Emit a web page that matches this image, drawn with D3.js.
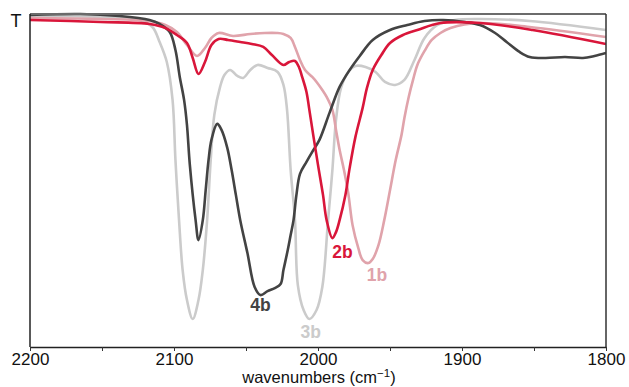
<!DOCTYPE html>
<html>
<head>
<meta charset="utf-8">
<script src="https://cdn.jsdelivr.net/npm/d3@7"></script>
<style>
  body { margin: 0; background: #fff; }
  svg { display: block; font-family: "Liberation Sans", Arial, sans-serif; }
</style>
</head>
<body>
<div id="chart"></div>
<script>
// IR spectra, wavenumbers (cm-1) vs transmittance (arbitrary %)
const wn1b = [2200, 2151, 2117, 2106, 2098, 2091, 2084, 2078.5, 2074, 2069, 2059, 2047, 2037, 2028.5, 2024, 2019, 2016, 2012.5, 2009, 2004, 2001, 1997, 1994, 1990, 1987.5, 1985, 1982, 1979, 1976, 1972, 1969, 1965, 1962, 1958, 1954, 1950, 1946, 1942, 1940, 1937, 1934, 1931, 1926, 1921, 1915, 1908, 1887.5, 1853, 1800];
const t1b  = [98.8, 98.5, 97.9, 96.7, 94.6, 90.7, 87.4, 89.8, 92.8, 94.3, 93.4, 94.0, 94.3, 94.3, 94.0, 92.8, 90.1, 86.2, 83.2, 81.1, 79.6, 77.2, 75.1, 71.2, 65.2, 59.2, 53.2, 46.2, 36.6, 29.7, 26.1, 25.2, 26.4, 30.6, 38.1, 47.1, 56.2, 63.7, 68.8, 75.1, 80.2, 84.7, 88.9, 92.2, 94.3, 95.8, 97.3, 96.1, 93.1];

const wn2b = [2200, 2151, 2117, 2106, 2098, 2091, 2087, 2083, 2078.5, 2074, 2069, 2062.5, 2054, 2046, 2038, 2032, 2024, 2020, 2016, 2013, 2011, 2008, 2006, 2003, 2000, 1996.5, 1994, 1990, 1987.5, 1985, 1981, 1978, 1974, 1969, 1966, 1962, 1956, 1950, 1941, 1931, 1915, 1887.5, 1851, 1800];
const t2b  = [98.2, 97.6, 97.0, 95.8, 93.7, 91.3, 86.8, 82.0, 85.6, 90.7, 92.5, 92.2, 91.6, 91.0, 90.1, 87.7, 84.7, 85.6, 85.9, 83.8, 81.1, 76.6, 71.2, 62.8, 54.7, 45.6, 38.1, 32.7, 34.5, 38.1, 45.6, 53.8, 63.1, 71.8, 77.8, 83.2, 87.7, 91.3, 93.7, 95.2, 97.3, 97.3, 95.2, 91.0];

const wn3b = [2200, 2151, 2124, 2115, 2110, 2105, 2101, 2099, 2096.5, 2094, 2091, 2087, 2083, 2080, 2077, 2074.5, 2072, 2068, 2065, 2061, 2056, 2052, 2047, 2042, 2035, 2028, 2024, 2021.5, 2019, 2016, 2014, 2010, 2006, 2001, 1997, 1993, 1990, 1987.5, 1984, 1979, 1974, 1967, 1960, 1953.5, 1946.5, 1940, 1933, 1926, 1917, 1905, 1887.5, 1853, 1800];
const t3b  = [99.4, 99.1, 98.2, 96.1, 91.6, 85.6, 74.2, 56.2, 38.1, 23.1, 14.1, 8.4, 14.1, 23.1, 38.1, 56.2, 69.7, 78.1, 81.7, 83.2, 81.4, 80.8, 83.2, 84.7, 83.8, 82.6, 78.7, 71.2, 53.2, 38.1, 18.6, 11.1, 8.4, 11.1, 18.0, 38.1, 53.2, 68.2, 77.8, 82.6, 84.4, 84.1, 82.6, 79.6, 78.7, 80.2, 86.2, 92.8, 96.7, 98.2, 98.5, 97.9, 95.2];

const wn4b = [2200, 2165, 2138, 2117, 2110, 2103, 2099, 2096, 2093, 2091, 2089, 2085, 2083, 2080, 2078, 2076, 2074, 2070, 2067, 2063, 2060, 2057, 2054, 2049, 2044, 2040, 2035, 2030, 2026, 2024, 2021, 2019, 2017, 2015, 2012.5, 2008, 2004, 1999, 1992, 1985, 1978, 1971, 1962, 1950, 1938, 1926, 1913, 1898, 1887.5, 1877, 1869, 1860, 1853, 1842, 1828.5, 1816, 1808, 1800];
const t4b  = [99.7, 100, 99.4, 98.2, 97.0, 94.6, 89.2, 81.1, 74.2, 66.7, 54.7, 38.1, 32.1, 38.1, 47.1, 56.2, 62.2, 67.0, 65.2, 59.8, 53.2, 45.6, 38.1, 28.2, 18.0, 15.6, 16.8, 17.7, 18.9, 23.1, 29.1, 33.6, 38.1, 45.6, 52.0, 55.6, 58.6, 62.2, 70.3, 78.1, 83.2, 87.4, 92.2, 95.2, 96.7, 97.9, 98.2, 97.6, 96.7, 94.3, 91.6, 88.6, 87.1, 86.8, 87.1, 86.8, 87.4, 88.3];

const seriesNames = ['3b', '1b', '4b', '2b'];
const seriesColors = { '1b': '#e0a3ab', '2b': '#d9163a', '3b': '#cbcbcb', '4b': '#434343' };
// label anchor: wavenumber and transmittance where the compound label sits
const labelWn = { '1b': 1959, '2b': 1983, '3b': 2005, '4b': 2040 };
const labelT  = { '1b': 21.5, '2b': 28.5, '3b': 4.5, '4b': 12.6 };

const xTicks = [2200, 2100, 2000, 1900, 1800];
const xMinorTicks = [2150, 2050, 1950, 1850];

const series = {
  '1b': wn1b.map((w, i) => ({ w: w, t: t1b[i] })),
  '2b': wn2b.map((w, i) => ({ w: w, t: t2b[i] })),
  '3b': wn3b.map((w, i) => ({ w: w, t: t3b[i] })),
  '4b': wn4b.map((w, i) => ({ w: w, t: t4b[i] }))
};

const width = 629, height = 387;
const margin = { top: 14, right: 23, bottom: 40, left: 30 };

const svg = d3.select('#chart').append('svg')
  .attr('width', width)
  .attr('height', height);

const x = d3.scaleLinear()
  .domain([2200, 1800])
  .range([margin.left, width - margin.right]);

const y = d3.scaleLinear()
  .domain([0, 100])
  .range([height - margin.bottom, margin.top]);

const line = d3.line()
  .x(d => x(d.w))
  .y(d => y(d.t))
  .curve(d3.curveCatmullRom.alpha(0.5));

svg.append('defs').append('clipPath').attr('id', 'plot')
  .append('rect')
  .attr('x', margin.left).attr('y', margin.top - 2)
  .attr('width', x(1800) - x(2200)).attr('height', y(0) - y(100) + 2);

const plot = svg.append('g').attr('clip-path', 'url(#plot)');

seriesNames.forEach(name => {
  plot.append('path')
    .datum(series[name])
    .attr('fill', 'none')
    .attr('stroke', seriesColors[name])
    .attr('stroke-width', 2.6)
    .attr('stroke-linejoin', 'round')
    .attr('d', line);
});

// frame
svg.append('line')
  .attr('x1', x(2200)).attr('x2', x(1800))
  .attr('y1', y(100)).attr('y2', y(100))
  .attr('stroke', '#6b6b6b').attr('stroke-width', 2);
svg.append('line')
  .attr('x1', x(1800)).attr('x2', x(1800))
  .attr('y1', y(100)).attr('y2', y(0))
  .attr('stroke', '#333').attr('stroke-width', 1.5);
svg.append('line')
  .attr('x1', x(2200)).attr('x2', x(2200))
  .attr('y1', y(100)).attr('y2', y(0))
  .attr('stroke', '#222').attr('stroke-width', 1.5);

const xAxis = d3.axisBottom(x)
  .tickValues(xTicks.concat(xMinorTicks))
  .tickSize(4)
  .tickSizeOuter(0)
  .tickFormat(d => xTicks.includes(d) ? d : '');

const axis = svg.append('g')
  .attr('transform', 'translate(0,' + y(0) + ')')
  .call(xAxis);
axis.select('.domain').attr('stroke', '#222').attr('stroke-width', 1.5);
axis.selectAll('line').attr('stroke', '#333').attr('stroke-width', 1);
axis.selectAll('text')
  .attr('fill', '#111')
  .attr('dy', 0)
  .attr('y', 18)
  .style('font-size', '17px')
  .style('font-family', '"Liberation Sans", Arial, sans-serif');

// axis title
const title = svg.append('text')
  .attr('x', (x(2200) + x(1800)) / 2 + 1)
  .attr('y', 383)
  .attr('text-anchor', 'middle')
  .attr('fill', '#111')
  .style('font-size', '16.5px');
title.append('tspan').text('wavenumbers (cm');
title.append('tspan').text('\u22121').attr('dy', -6).style('font-size', '11.5px');
title.append('tspan').text(')').attr('dy', 6);

svg.append('text')
  .attr('x', 16)
  .attr('y', 27)
  .attr('text-anchor', 'middle')
  .attr('fill', '#111')
  .style('font-size', '18px')
  .text('T');

// compound labels
Object.keys(labelWn).forEach(name => {
  svg.append('text')
    .attr('x', x(labelWn[name]))
    .attr('y', y(labelT[name]))
    .attr('text-anchor', 'middle')
    .attr('dominant-baseline', 'central')
    .attr('fill', seriesColors[name])
    .style('font-size', '17.5px')
    .style('font-weight', 'bold')
    .text(name);
});
</script>
</body>
</html>
